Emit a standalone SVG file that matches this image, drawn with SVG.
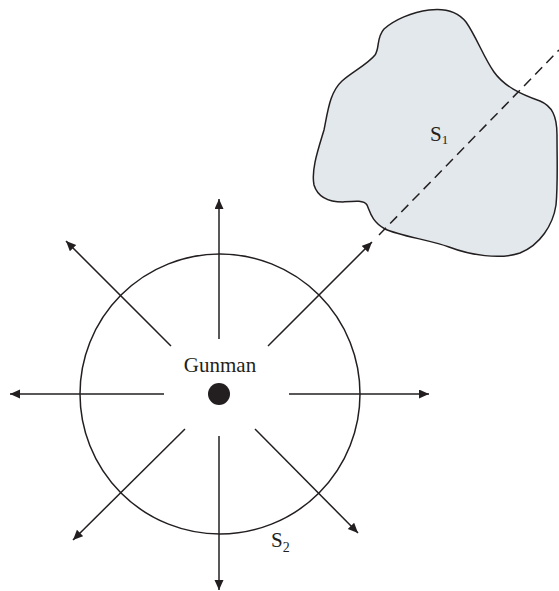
<svg xmlns="http://www.w3.org/2000/svg" width="559" height="591" viewBox="0 0 559 591">
<style>
.ln{stroke:#231f20;stroke-width:1.5;fill:none}
.arr{marker-end:url(#ah)}
.lbl{font-family:"Liberation Serif","Times New Roman",serif;fill:#231f20}
</style>
<defs>
<marker id="ah" markerUnits="userSpaceOnUse" markerWidth="11" markerHeight="10" refX="10" refY="4.5" orient="auto">
<path d="M0,0 L10,4.5 L0,9 Z" fill="#231f20"/>
</marker>
</defs>
<rect width="559" height="591" fill="#ffffff"/>
<g id="S1">
<path class="ln" style="fill:#e3e8ed" d="M429,10 C445,8 458,12 466,22 C476,36 484,58 494,72 C504,86 520,94 540,101 C552,106 557,116 557,135 C557,160 558,185 556,205 C553,225 540,245 520,253 C500,260 470,255 449,247 C430,240 400,236 385,229 C372,222 370,212 367,205 C364,200 355,201 343,202 C330,202 318,198 314,185 C311,170 318,150 324,130 C328,110 330,92 342,81 C352,72 368,64 375,55 C380,48 376,38 384,29 C394,20 412,12 429,10 Z"/>
<text class="lbl" x="430" y="141" font-size="21">S<tspan font-size="13" dy="3">1</tspan></text>
</g>
<g id="S2">
<circle class="ln" cx="220" cy="394" r="140"/>
<text class="lbl" x="271" y="547" font-size="21">S<tspan font-size="14" dy="5">2</tspan></text>
</g>
<g id="gunman">
<circle cx="219" cy="394" r="11" fill="#231f20"/>
<text class="lbl" x="220" y="372" font-size="21" text-anchor="middle">Gunman</text>
</g>
<g id="connectors">
<line class="ln arr" x1="219" y1="339" x2="219" y2="199"/>
<line class="ln arr" x1="219" y1="436" x2="219" y2="590"/>
<line class="ln arr" x1="164" y1="394" x2="10" y2="394"/>
<line class="ln arr" x1="289" y1="394" x2="429" y2="394"/>
<line class="ln arr" x1="171" y1="346" x2="66" y2="241"/>
<line class="ln arr" x1="268" y1="346" x2="372" y2="242"/>
<line class="ln arr" x1="185" y1="429" x2="73" y2="540"/>
<line class="ln arr" x1="255" y1="429" x2="358" y2="533"/>
<line class="ln" stroke-dasharray="10 6" x1="379" y1="235" x2="559" y2="50"/>
</g>
</svg>
